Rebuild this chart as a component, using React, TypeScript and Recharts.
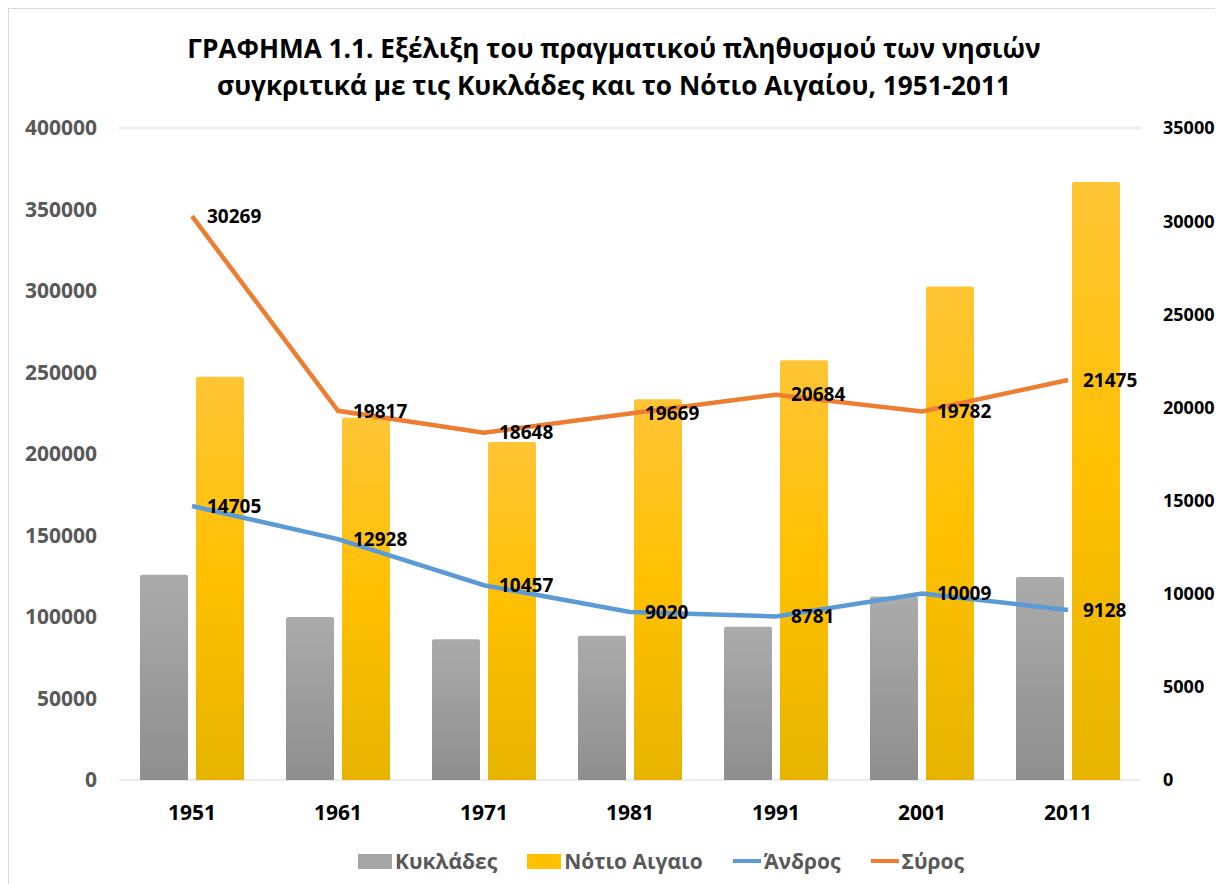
import React from 'react';
import {
  ComposedChart,
  Bar,
  Line,
  XAxis,
  YAxis,
  CartesianGrid,
  LabelList,
} from 'recharts';

const years = ['1951', '1961', '1971', '1981', '1991', '2001', '2011'];
const kyklades = [125959, 99959, 86337, 88458, 94005, 112615, 124525];
const notioAigaio = [247439, 222305, 207354, 233529, 257481, 302686, 366900];
const andros = [14705, 12928, 10457, 9020, 8781, 10009, 9128];
const syros = [30269, 19817, 18648, 19669, 20684, 19782, 21475];
const leftTicks = [0, 50000, 100000, 150000, 200000, 250000, 300000, 350000, 400000];
const rightTicks = [0, 5000, 10000, 15000, 20000, 25000, 30000, 35000];

const FONT = "'Open Sans', 'Liberation Sans', sans-serif";

const data = years.map((year, i) => ({
  year,
  kyklades: kyklades[i],
  notio: notioAigaio[i],
  andros: andros[i],
  syros: syros[i],
}));

const legendItems = [
  { name: 'Κυκλάδες', color: '#a5a5a5', type: 'rect' },
  { name: 'Νότιο Αιγαιο', color: '#ffc000', type: 'rect' },
  { name: 'Άνδρος', color: '#5b9bd5', type: 'line' },
  { name: 'Σύρος', color: '#ed7d31', type: 'line' },
];

export default function App() {
  return (
    <div
      style={{
        position: 'relative',
        width: 1214,
        height: 875,
        border: '1px solid #d9d9d9',
        background: '#fff',
        fontFamily: FONT,
        overflow: 'hidden',
      }}
    >
      {/* τίτλος */}
      <div
        style={{
          position: 'absolute',
          top: 21,
          left: 0,
          width: 1210,
          textAlign: 'center',
          fontSize: 26.2,
          fontWeight: 700,
          lineHeight: '37px',
          color: '#000',
        }}
      >
        ΓΡΑΦΗΜΑ 1.1. Εξέλιξη του πραγματικού πληθυσμού των νησιών
        <br />
        συγκριτικά με τις Κυκλάδες και το Νότιο Αιγαίου, 1951-2011
      </div>

      <ComposedChart
        width={1214}
        height={875}
        data={data}
        margin={{ top: 119, right: 0, bottom: 44, left: 0 }}
        barGap={8}
        barCategoryGap={21}
        style={{ position: 'absolute', top: 0, left: 0 }}
      >
        <defs>
          <linearGradient id="grayGrad" x1="0" y1="0" x2="0" y2="1">
            <stop offset="0%" stopColor="#ababab" />
            <stop offset="100%" stopColor="#8e8e8e" />
          </linearGradient>
          <linearGradient id="yellowGrad" x1="0" y1="0" x2="0" y2="1">
            <stop offset="0%" stopColor="#ffc535" />
            <stop offset="50%" stopColor="#ffc000" />
            <stop offset="100%" stopColor="#e6b400" />
          </linearGradient>
        </defs>
        <CartesianGrid vertical={false} stroke="#d9d9d9" />
        <XAxis
          dataKey="year"
          axisLine={false}
          tickLine={false}
          tickSize={0}
          tickMargin={25}
          height={60}
          tick={{ fill: '#000', fontSize: 21, fontWeight: 700, fontFamily: FONT }}
        />
        <YAxis
          yAxisId="left"
          domain={[0, 400000]}
          ticks={leftTicks}
          width={110}
          axisLine={false}
          tickLine={false}
          tickSize={0}
          tickMargin={22}
          tick={{ fill: '#595959', fontSize: 21, fontWeight: 700, fontFamily: FONT }}
        />
        <YAxis
          yAxisId="right"
          orientation="right"
          domain={[0, 35000]}
          ticks={rightTicks}
          width={82}
          axisLine={false}
          tickLine={false}
          tickSize={0}
          tickMargin={22}
          tick={{ fill: '#000', fontSize: 18, fontWeight: 700, fontFamily: FONT, textAnchor: 'start' }}
        />
        <Bar
          yAxisId="left"
          dataKey="kyklades"
          name="Κυκλάδες"
          fill="url(#grayGrad)"
          barSize={48}
          radius={[2, 2, 0, 0]}
          isAnimationActive={false}
        />
        <Bar
          yAxisId="left"
          dataKey="notio"
          name="Νότιο Αιγαιο"
          fill="url(#yellowGrad)"
          barSize={48}
          radius={[2, 2, 0, 0]}
          isAnimationActive={false}
        />
        <Line
          yAxisId="right"
          dataKey="andros"
          name="Άνδρος"
          stroke="#5b9bd5"
          strokeWidth={4.5}
          dot={false}
          isAnimationActive={false}
        >
          <LabelList
            dataKey="andros"
            position="right"
            offset={15}
            fill="#000"
            fontSize={19}
            fontWeight={700}
            fontFamily={FONT}
          />
        </Line>
        <Line
          yAxisId="right"
          dataKey="syros"
          name="Σύρος"
          stroke="#ed7d31"
          strokeWidth={4.5}
          dot={false}
          isAnimationActive={false}
        >
          <LabelList
            dataKey="syros"
            position="right"
            offset={15}
            fill="#000"
            fontSize={19}
            fontWeight={700}
            fontFamily={FONT}
          />
        </Line>
      </ComposedChart>

      {/* υπόμνημα */}
      <div
        style={{
          position: 'absolute',
          top: 838,
          left: 349,
          display: 'flex',
          alignItems: 'center',
          gap: 30,
          fontSize: 21,
          fontWeight: 700,
          color: '#595959',
        }}
      >
        {legendItems.map((item) => (
          <div key={item.name} style={{ display: 'flex', alignItems: 'center' }}>
            {item.type === 'rect' ? (
              <span style={{ display: 'inline-block', width: 34, height: 15, background: item.color, marginRight: 3 }} />
            ) : (
              <span style={{ display: 'inline-block', width: 28, height: 4, background: item.color, marginRight: 3 }} />
            )}
            <span>{item.name}</span>
          </div>
        ))}
      </div>
    </div>
  );
}
